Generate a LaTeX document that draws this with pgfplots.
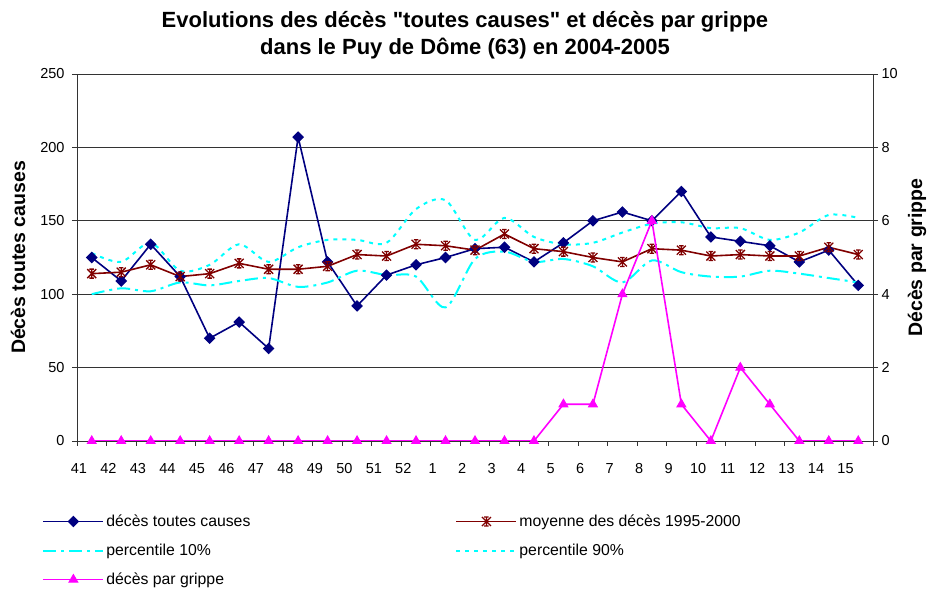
\documentclass[border=0pt]{standalone}
\usepackage{fontspec}
\setmainfont{Liberation Sans}
\usepackage{pgfplots}
\usepackage{pgfplotstable}
\pgfplotsset{compat=1.18}
\usetikzlibrary{calc}
\definecolor{navy}{RGB}{0,0,128}
\definecolor{bordeaux}{RGB}{128,0,0}
\definecolor{cyanx}{RGB}{0,255,255}
\definecolor{magentax}{RGB}{255,0,255}
% straight double quote, bypassing the tex-text mapping
\newcommand\dq{\XeTeXglyph\XeTeXcharglyph"0022\relax}

% Excel-like star: X with vertical bar and caps
\pgfdeclareplotmark{xstar}{%
  \pgfpathmoveto{\pgfqpoint{-\pgfplotmarksize}{-\pgfplotmarksize}}%
  \pgfpathlineto{\pgfqpoint{\pgfplotmarksize}{\pgfplotmarksize}}%
  \pgfpathmoveto{\pgfqpoint{-\pgfplotmarksize}{\pgfplotmarksize}}%
  \pgfpathlineto{\pgfqpoint{\pgfplotmarksize}{-\pgfplotmarksize}}%
  \pgfpathmoveto{\pgfqpoint{0pt}{-\pgfplotmarksize}}%
  \pgfpathlineto{\pgfqpoint{0pt}{\pgfplotmarksize}}%
  \pgfpathmoveto{\pgfqpoint{-0.5\pgfplotmarksize}{\pgfplotmarksize}}%
  \pgfpathlineto{\pgfqpoint{0.5\pgfplotmarksize}{\pgfplotmarksize}}%
  \pgfpathmoveto{\pgfqpoint{-0.5\pgfplotmarksize}{-\pgfplotmarksize}}%
  \pgfpathlineto{\pgfqpoint{0.5\pgfplotmarksize}{-\pgfplotmarksize}}%
  \pgfusepathqstroke}

\pgfplotstableread{
x    tc   moy  p10  p90
0.5  125  114  100  128
1.5  109  115  104  122
2.5  134  120  102  135
3.5  112  112  108  116
4.5  70   114  106  120
5.5  81   121  109  134
6.5  63   117  111  122
7.5  207  117  105  132
8.5  122  119  108  137
9.5  92   127  116  137
10.5 113  126  113  135
11.5 120  134  112  158
12.5 125  133  91   164
13.5 131  130  124  137
14.5 132  141  129  152
15.5 122  131  122  139
16.5 135  129  124  134
17.5 150  125  119  135
18.5 156  122  108  142
19.5 150  131  123  148
20.5 170  130  115  149
21.5 139  126  112  145
22.5 136  127  112  145
23.5 133  126  116  137
24.5 122  126  114  142
25.5 130  132  111  154
26.5 106  127  108  152
}\deces

\pgfplotstableread{
x    g
0.5  0
1.5  0
2.5  0
3.5  0
4.5  0
5.5  0
6.5  0
7.5  0
8.5  0
9.5  0
10.5 0
11.5 0
12.5 0
13.5 0
14.5 0
15.5 0
16.5 1
17.5 1
18.5 4
19.5 6
20.5 1
21.5 0
22.5 2
23.5 1
24.5 0
25.5 0
26.5 0
}\grippe

\begin{document}
\begin{tikzpicture}
\pgfplotsset{
  common/.style={
    width=796pt, height=367pt, scale only axis,
    xmin=0, xmax=27,
    ticklabel style={font=\fontsize{14.5}{16}\selectfont},
    /pgf/number format/assume math mode=true,
    axis line style={black!80, line width=0.8pt},
    tick style={black!80, line width=0.8pt},
    legend image code/.code={
      \draw[##1] (0pt,0pt) -- (60pt,0pt);
      \draw[##1, only marks] plot coordinates {(30pt,0pt)};},
  },
}
\begin{axis}[common,
  ymin=0, ymax=250, ytick={0,50,...,250},
  axis y line*=left, axis x line*=bottom,
  xtick={0,...,27},
  xticklabels={41,42,43,44,45,46,47,48,49,50,51,52,1,2,3,4,5,6,7,8,9,10,11,12,13,14,15,{}},
  xticklabel style={xshift=2pt, yshift=-14pt},
  yticklabel style={xshift=-4pt},
  tick align=outside, major tick length=5pt,
  ymajorgrids, grid style={black!80, line width=0.8pt},
  every axis y label/.style={at={(rel axis cs:0,0.5)}, xshift=-59pt, rotate=90, anchor=center},
  ylabel={\fontsize{19.5}{21}\selectfont\bfseries Décès toutes causes},
  legend columns=2,
  legend cell align=left,
  legend style={at={(-0.0475,-0.19)}, anchor=north west, draw=none, fill=none,
    font=\fontsize{15.8}{18}\selectfont, row sep=12pt,
    /tikz/column 2/.style={column sep=203pt}},
]
\coordinate (bl) at (rel axis cs:0,0);
\coordinate (tr) at (rel axis cs:1,1);
\addplot[navy, line width=1.6pt, mark=square*, mark size=3.6pt, mark options={rotate=45, solid, fill=navy, line width=1pt}]
  table[x=x, y=tc] {\deces};
\addlegendentry{décès toutes causes}
\addplot[bordeaux, line width=1.6pt, mark=xstar, mark size=4.5pt, mark options={solid, line width=1.3pt}]
  table[x=x, y=moy] {\deces};
\addlegendentry{moyenne des décès 1995-2000}
\addplot[cyanx, line width=2pt, smooth, dash pattern=on 13pt off 5pt on 3pt off 5pt]
  table[x=x, y=p10] {\deces};
\addlegendentry{percentile 10\%}
\addplot[cyanx, line width=2pt, smooth, dash pattern=on 4pt off 5pt]
  table[x=x, y=p90] {\deces};
\addlegendentry{percentile 90\%}
\addlegendimage{magentax, line width=1.6pt, mark=triangle*, mark size=5pt, mark options={solid, fill=magentax, line width=1pt}}
\addlegendentry{décès par grippe}
\node[anchor=west, font=\fontsize{16}{18}\selectfont] at (rel axis cs:0.885,0) [yshift=-43pt] {semaines de décès};
\end{axis}
\begin{axis}[common,
  ymin=0, ymax=10, ytick={0,2,...,10},
  axis y line*=right, axis x line=none,
  tick align=center, major tick length=10pt,
  every axis y label/.style={at={(rel axis cs:1,0.5)}, xshift=44pt, rotate=90, anchor=center},
  ylabel={\fontsize{19.5}{21}\selectfont\bfseries Décès par grippe},
]
\addplot[magentax, line width=1.6pt, mark=triangle*, mark size=5pt, mark options={solid, fill=magentax, line width=1pt}]
  table[x=x, y=g] {\grippe};
\end{axis}
\node[align=center, font=\fontsize{22}{27}\selectfont\bfseries] at ($(tr)+(-408pt,38.5pt)$)
  {Evolutions des décès \dq toutes causes\dq{} et décès par grippe\\dans le Puy de Dôme (63) en 2004-2005};
\pgfresetboundingbox
\path[use as bounding box] ($(bl)+(-77pt,-149pt)$) rectangle ($(tr)+(58pt,74pt)$);
\end{tikzpicture}
\end{document}
